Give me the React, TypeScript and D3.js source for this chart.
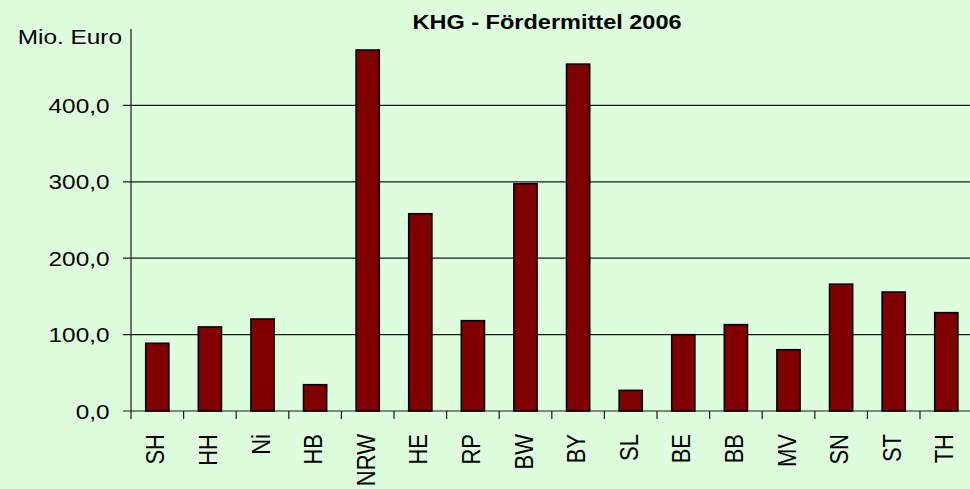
import { useEffect } from 'react'
import * as d3 from 'd3'

// KHG-Fördermittel 2006 nach Bundesland, Mio. Euro
const laender = ['SH', 'HH', 'Ni', 'HB', 'NRW', 'HE', 'RP', 'BW', 'BY', 'SL', 'BE', 'BB', 'MV', 'SN', 'ST', 'TH']
const mittel = [88.6, 110, 120.4, 34.4, 472.5, 258.2, 118.2, 297.5, 454, 27, 99.9, 113, 80.2, 166, 155.7, 128.7]
const yTicks = [0, 100, 200, 300, 400]

const W = 970
const H = 489
const BG = '#ddfddd'
const BAR = '#800000'
const FONT = '"Liberation Sans", Arial, sans-serif'
// the original export is stretched horizontally a bit
const SX = 1.16

export default function App() {
  useEffect(() => {
    document.body.style.margin = '0'
  }, [])

  const x = d3.scaleBand<string>()
    .domain(laender)
    .range([131, 131 + laender.length * 52.6])
    .padding(0)

  const y = d3.scaleLinear().domain([0, 500]).range([411, 29])

  const barW = x.bandwidth() * 0.44
  const fmt = (v: number) => v.toFixed(1).replace('.', ',')

  return (
    <svg width={W} height={H} style={{ display: 'block', background: BG }} fontFamily={FONT}>
      <rect x={0} y={0} width={W} height={H} fill={BG} />

      {/* title */}
      <text transform="translate(412.5,29) scale(1.12,1)" fontSize={21} fontWeight="bold" fill="#000">
        KHG - Fördermittel 2006
      </text>

      {/* unit label */}
      <text transform={`translate(122,44) scale(${SX},1)`} textAnchor="end" fontSize={21} fill="#000">
        Mio. Euro
      </text>

      {/* gridlines + y ticks */}
      {yTicks.map(t => (
        <g key={t}>
          <line x1={123} x2={W} y1={y(t)} y2={y(t)} stroke="#1a1a1a" strokeWidth={1.2} />
          <text
            transform={`translate(109.5,${y(t) + 7.5}) scale(${SX},1)`}
            textAnchor="end"
            fontSize={21}
            fill="#000"
          >
            {fmt(t)}
          </text>
        </g>
      ))}

      {/* y axis */}
      <line x1={131} x2={131} y1={y(500)} y2={y(0)} stroke="#1a1a1a" strokeWidth={1.2} />

      {/* x ticks at band borders */}
      {laender.map(c => (
        <line key={c} x1={x(c)!} x2={x(c)!} y1={y(0)} y2={y(0) + 8} stroke="#1a1a1a" strokeWidth={1.2} />
      ))}

      {/* bars */}
      {laender.map((c, i) => (
        <rect
          key={c}
          x={x(c)! + (x.bandwidth() - barW) / 2}
          y={y(mittel[i])}
          width={barW}
          height={y(0) - y(mittel[i])}
          fill={BAR}
          stroke="#000"
          strokeWidth={1.6}
        />
      ))}

      {/* category labels */}
      {laender.map(c => (
        <text
          key={c}
          transform={`translate(${x(c)! + x.bandwidth() / 2 + 7},434) scale(${SX},1) rotate(-90)`}
          textAnchor="end"
          fontSize={22}
          fill="#000"
        >
          {c}
        </text>
      ))}
    </svg>
  )
}
